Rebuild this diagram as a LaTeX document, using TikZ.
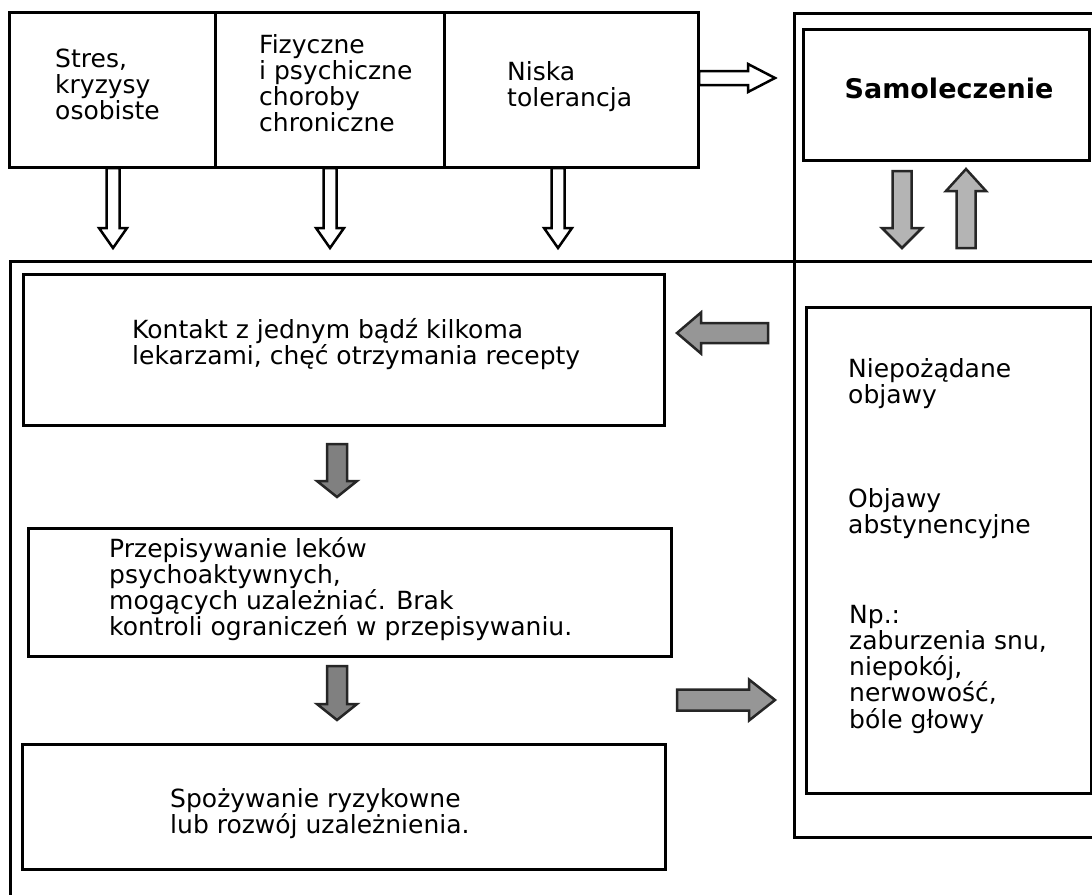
\documentclass[tikz,border=0pt]{standalone}
\usepackage{fontspec}
\setmainfont{DejaVu Sans}
\usetikzlibrary{fit}
\definecolor{grayA}{RGB}{128,128,128}
\definecolor{grayB}{RGB}{150,150,150}
\definecolor{grayC}{RGB}{180,180,180}
% horizontal block arrow: style, x tail, x tip, y, shaft half width, head half width, head length
\newcommand{\hblk}[7]{%
  \pgfmathsetmacro{\hkx}{(#3>#2) ? (#3-#7) : (#3+#7)}%
  \draw[#1] (#2,#4-#5) -- (\hkx,#4-#5) -- (\hkx,#4-#6) -- (#3,#4) -- (\hkx,#4+#6) -- (\hkx,#4+#5) -- (#2,#4+#5) -- cycle;}
% vertical block arrow: style, y tail, y tip, x, shaft half width, head half width, head length
\newcommand{\vblk}[7]{%
  \pgfmathsetmacro{\vky}{(#3>#2) ? (#3-#7) : (#3+#7)}%
  \draw[#1] (#4-#5,#2) -- (#4-#5,\vky) -- (#4-#6,\vky) -- (#4,#3) -- (#4+#6,\vky) -- (#4+#5,\vky) -- (#4+#5,#2) -- cycle;}
\begin{document}
\begin{tikzpicture}[x=1pt,y=-1pt,
  frame/.style={draw=black, line width=3pt},
  box/.style={draw=black, line width=3pt, rectangle, inner sep=0pt},
  txt/.style={anchor=base west, align=left, inner sep=0pt, font=\fontsize{25}{26.3}\selectfont},
  warrow/.style={draw=black, line width=2.5pt, fill=white, line join=miter},
  garrowA/.style={draw=black!85, line width=2.5pt, fill=grayA, line join=miter},
  garrowB/.style={draw=black!85, line width=2.5pt, fill=grayB, line join=miter},
  garrowC/.style={draw=black!85, line width=2.5pt, fill=grayC, line join=miter},
]
\useasboundingbox (0,0) rectangle (1092,894);
\clip (0,0) rectangle (1092,894);

% top row of causes
\node[box, fit={(9,12) (215,167)}] (stres) {};
\node[box, fit={(215,12) (444,167)}] (fiz) {};
\node[box, fit={(444,12) (698,167)}] (niska) {};

% right frame
\draw[frame] (1100,13) -- (794,13) -- (794,837) -- (1100,837);
\node[box, fit={(803,29) (1089,160)}] (samo) {};
\node[box, fit={(806,307) (1091,793)}] (objawy) {};

% lower frame
\draw[frame] (1100,261) -- (10,261) -- (10,900);
\node[box, fit={(23,274) (664,425)}] (kontakt) {};
\node[box, fit={(28,528) (671,656)}] (przep) {};
\node[box, fit={(22,744) (665,869)}] (spoz) {};

% texts (anchor = baseline of the last line)
\node[txt] (t1) at (55,119.6) {Stres,\\kryzysy\\osobiste};
\node[txt] (t2) at (259,131.9) {Fizyczne\\i psychiczne\\choroby\\chroniczne};
\node[txt] (t3) at (507,106.3) {Niska\\tolerancja};
\node[anchor=base, inner sep=0pt, font=\fontsize{27}{30}\selectfont\bfseries] (t0) at (949,98) {Samoleczenie};
\node[txt] (t4) at (132,364.3) {Kontakt z jednym bądź kilkoma\\lekarzami, chęć otrzymania recepty};
\node[txt] (t5) at (109,635.9) {Przepisywanie leków\\psychoaktywnych,\\mogących uzależniać. Brak\\kontroli ograniczeń w przepisywaniu.};
\node[txt] (t6) at (170,833.3) {Spożywanie ryzykowne\\lub rozwój uzależnienia.};
\node[txt] (t7) at (848,403.3) {Niepożądane\\objawy};
\node[txt] (t8) at (848,533.3) {Objawy\\abstynencyjne};
\node[txt] (t9) at (849,728.2) {Np.:\\zaburzenia snu,\\niepokój,\\nerwowość,\\bóle głowy};

% white arrows
\vblk{warrow}{168}{248}{113}{6.5}{14}{20}
\vblk{warrow}{168}{248}{330}{6.5}{14}{20}
\vblk{warrow}{168}{248}{558}{6.5}{14}{20}
\hblk{warrow}{699}{775}{78}{7}{14}{27}

% grey arrows near Samoleczenie
\vblk{garrowC}{171}{248}{902}{9.5}{20}{20}
\vblk{garrowC}{248}{169}{966}{9.5}{20}{22}

% grey arrows in lower part
\hblk{garrowB}{768}{677}{333}{10}{20.5}{24}
\hblk{garrowB}{677}{775}{700}{10.5}{20.5}{26}
\vblk{garrowA}{444}{497}{337}{10}{20}{16}
\vblk{garrowA}{666}{720}{337}{10}{20}{16}
\end{tikzpicture}
\end{document}
